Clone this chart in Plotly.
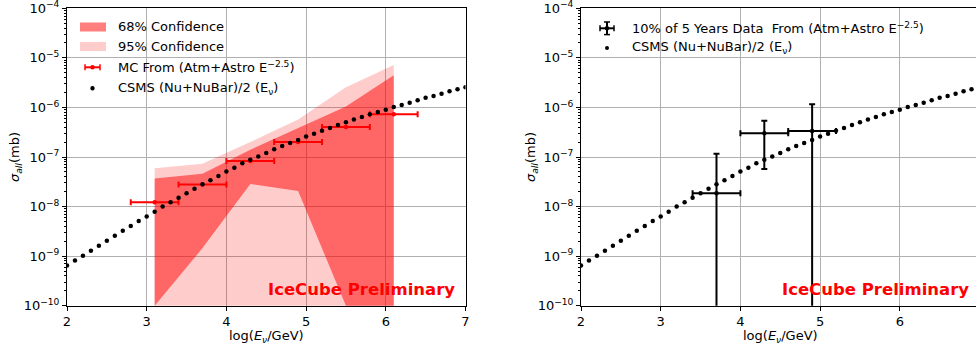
import plotly.graph_objects as go

# ---------------- data ----------------
csms_logE = [round(2.0 + 0.1 * i, 1) for i in range(51)]
csms_sigma = [6.5e-10, 8.2e-10, 1.02e-9, 1.29e-9, 1.62e-9, 2.04e-9, 2.57e-9, 3.24e-9, 4.07e-9, 5.13e-9,
              6.3e-9, 7.85e-9, 1.0e-8, 1.22e-8, 1.51e-8, 1.86e-8, 2.29e-8, 2.82e-8, 3.39e-8, 4.12e-8,
              5.08e-8, 6.1e-8, 7.5e-8, 8.8e-8, 1.02e-7, 1.21e-7, 1.44e-7, 1.67e-7, 1.92e-7, 2.21e-7,
              2.58e-7, 2.96e-7, 3.4e-7, 3.86e-7, 4.44e-7, 5.04e-7, 5.68e-7, 6.43e-7, 7.3e-7, 8.1e-7,
              9.0e-7, 1.02e-6, 1.12e-6, 1.25e-6, 1.40e-6, 1.56e-6, 1.71e-6, 1.90e-6, 2.12e-6, 2.33e-6,
              2.55e-6]

band_logE = [3.1, 3.7, 4.3, 4.9, 5.5, 6.1]
hi95 = [5.9e-8, 7.3e-8, 2.0e-7, 5.7e-7, 2.55e-6, 7.2e-6]
lo95 = [1e-12, 1e-12, 1e-12, 1e-12, 1e-12, 1e-12]
hi68 = [3.7e-8, 4.6e-8, 1.4e-7, 3.9e-7, 1.05e-6, 4.45e-6]
lo68 = [1.0e-10, 1.45e-9, 2.85e-8, 2.06e-8, 1.0e-10, 1e-12]

mc_logE = [3.1, 3.7, 4.3, 4.9, 5.5, 6.1]
mc_sigma = [1.22e-8, 2.8e-8, 8.3e-8, 2.0e-7, 4.05e-7, 7.3e-7]
mc_xerr = [0.3, 0.3, 0.3, 0.3, 0.3, 0.3]

data_logE = [3.7, 4.3, 4.9]
data_sigma = [1.85e-8, 3.0e-7, 3.36e-7]
data_hi = [1.16e-7, 5.4e-7, 1.16e-6]
data_lo = [1e-14, 5.75e-8, 1e-14]
data_xerr = [0.3, 0.3, 0.3]

ytick_vals = [1e-10, 1e-9, 1e-8, 1e-7, 1e-6, 1e-5, 1e-4]
ytick_text = ["10<sup>−10</sup>", "10<sup>−9</sup>", "10<sup>−8</sup>", "10<sup>−7</sup>",
              "10<sup>−6</sup>", "10<sup>−5</sup>", "10<sup>−4</sup>"]
xtick_vals = [2, 3, 4, 5, 6, 7]

# ---------------- figure ----------------
W, H = 976, 350
FONT = "DejaVu Sans"
fig = go.Figure()

def X(px):
    return px / W

def Y(py):
    return 1 - py / H

# left panel
fig.add_trace(go.Scatter(x=band_logE + band_logE[::-1], y=hi95 + lo95[::-1], fill="toself",
                         fillcolor="rgba(255,0,0,0.2)", line=dict(width=0), mode="lines",
                         hoverinfo="skip", showlegend=False, xaxis="x", yaxis="y"))
fig.add_trace(go.Scatter(x=band_logE + band_logE[::-1], y=hi68 + lo68[::-1], fill="toself",
                         fillcolor="rgba(255,0,0,0.5)", line=dict(width=0), mode="lines",
                         hoverinfo="skip", showlegend=False, xaxis="x", yaxis="y"))
fig.add_trace(go.Scatter(x=mc_logE, y=mc_sigma, mode="markers",
                         marker=dict(color="red", size=4.5),
                         error_x=dict(type="data", array=mc_xerr, color="red", thickness=2, width=3),
                         showlegend=False, xaxis="x", yaxis="y"))
fig.add_trace(go.Scatter(x=csms_logE, y=csms_sigma, mode="markers",
                         marker=dict(color="black", size=4.5),
                         showlegend=False, xaxis="x", yaxis="y"))

# right panel
fig.add_trace(go.Scatter(x=csms_logE, y=csms_sigma, mode="markers",
                         marker=dict(color="black", size=4.5),
                         showlegend=False, xaxis="x2", yaxis="y2"))
fig.add_trace(go.Scatter(x=data_logE, y=data_sigma, mode="markers",
                         marker=dict(color="black", size=4.5),
                         error_x=dict(type="data", array=data_xerr, color="black", thickness=2, width=3),
                         error_y=dict(type="data", symmetric=False,
                                      array=[h - v for h, v in zip(data_hi, data_sigma)],
                                      arrayminus=[v - l for v, l in zip(data_sigma, data_lo)],
                                      color="black", thickness=2, width=3),
                         showlegend=False, xaxis="x2", yaxis="y2"))

minor_vals = [m * 10.0 ** e for e in range(-10, -4) for m in range(2, 10)]

axis_common = dict(showline=True, linecolor="black", linewidth=1, ticks="outside", ticklen=4,
                   tickcolor="black", showgrid=True, gridcolor="#b0b0b0", gridwidth=1,
                   zeroline=False, automargin=False, ticklabeloverflow="allow",
                   tickfont=dict(family=FONT, size=13, color="black"))

ydom = [Y(305.7), Y(8.3)]
yrange = [-10.0005, -3.9995]
fig.update_layout(
    width=W, height=H, margin=dict(l=0, r=0, t=0, b=0, autoexpand=False),
    paper_bgcolor="white", plot_bgcolor="white",
    xaxis=dict(domain=[X(67), X(465.5)], range=[2, 7.0005], tickvals=xtick_vals, mirror=True,
               anchor="y", **axis_common),
    yaxis=dict(domain=ydom, type="log", range=yrange, tickvals=ytick_vals, ticktext=ytick_text,
               mirror=True, anchor="x",
               minor=dict(tickmode="array", tickvals=minor_vals, ticks="outside", ticklen=2,
                          tickcolor="black", showgrid=False),
               **axis_common),
    xaxis2=dict(domain=[X(581), 1.0], range=[2, 2 + 395 / 79.7], tickvals=xtick_vals, mirror=True,
                anchor="y2", **axis_common),
    yaxis2=dict(domain=ydom, type="log", range=yrange, tickvals=ytick_vals, ticktext=ytick_text,
                mirror=False, anchor="x2",
                minor=dict(tickmode="array", tickvals=minor_vals, ticks="outside", ticklen=2,
                           tickcolor="black", showgrid=False),
                **axis_common),
    font=dict(family=FONT, size=13, color="black"),
)

ann = []
shapes = []

def text(px, py, s, size=13, xanchor="left", color="black", angle=0):
    ann.append(dict(x=X(px), y=Y(py), xref="paper", yref="paper", text=s, showarrow=False,
                    xanchor=xanchor, yanchor="middle", textangle=angle,
                    font=dict(family=FONT, size=size, color=color)))

def line(x0, y0, x1, y1, color, w):
    shapes.append(dict(type="line", xref="paper", yref="paper", x0=X(x0), y0=Y(y0), x1=X(x1), y1=Y(y1),
                       line=dict(color=color, width=w)))

def rect(x0, y0, x1, y1, color):
    shapes.append(dict(type="rect", xref="paper", yref="paper", x0=X(x0), y0=Y(y0), x1=X(x1), y1=Y(y1),
                       fillcolor=color, line=dict(width=0)))

def dot(cx, cy, r, color):
    shapes.append(dict(type="circle", xref="paper", yref="paper", x0=X(cx - r), y0=Y(cy + r),
                       x1=X(cx + r), y1=Y(cy - r), fillcolor=color, line=dict(width=0)))

# left legend
rect(80, 22.5, 106, 31.5, "rgba(255,0,0,0.5)")
rect(80, 42, 106, 51, "rgba(255,0,0,0.2)")
line(85, 67.3, 100, 67.3, "red", 2)
line(85, 64.3, 85, 70.3, "red", 1.5)
line(100, 64.3, 100, 70.3, "red", 1.5)
dot(92.5, 67.3, 2.2, "red")
dot(92.5, 88.3, 2.2, "black")
text(116, 26.7, "68% Confidence")
text(116, 46.5, "95% Confidence")
text(116, 67.3, "MC From (Atm+Astro E<sup>−2.5</sup>)")
text(116, 88.3, "CSMS (Nu+NuBar)/2 (E<sub>ν</sub>)")

# right legend
line(600, 28.3, 614, 28.3, "black", 2)
line(600, 25.3, 600, 31.3, "black", 1.5)
line(614, 25.3, 614, 31.3, "black", 1.5)
line(607, 22, 607, 34.6, "black", 2)
line(604, 22, 610, 22, "black", 1.5)
line(604, 34.6, 610, 34.6, "black", 1.5)
dot(607, 28.3, 2.2, "black")
dot(607, 48, 2.0, "black")
text(630, 28.3, "10% of 5 Years Data\u00a0 From (Atm+Astro E<sup>−2.5</sup>)")
text(630, 48, "CSMS (Nu+NuBar)/2 (E<sub>ν</sub>)")

# IceCube Preliminary
text(457, 289.5, "<b>IceCube Preliminary</b>", size=16.5, xanchor="right", color="red")
text(971, 289.5, "<b>IceCube Preliminary</b>", size=16.5, xanchor="right", color="red")

# axis titles
text(266, 336, "log(<i>E</i><sub><i>ν</i></sub>/GeV)", xanchor="center")
text(780, 336, "log(<i>E</i><sub><i>ν</i></sub>/GeV)", xanchor="center")
text(15, 157, "<i>σ</i><sub><i>all</i></sub>(mb)", xanchor="center", angle=-90)
text(531, 157, "<i>σ</i><sub><i>all</i></sub>(mb)", xanchor="center", angle=-90)

fig.update_layout(annotations=ann, shapes=shapes)
fig.write_html("out.html", config={"displayModeBar": False},
               post_script="document.body.style.margin='0';document.body.style.overflow='hidden';")
